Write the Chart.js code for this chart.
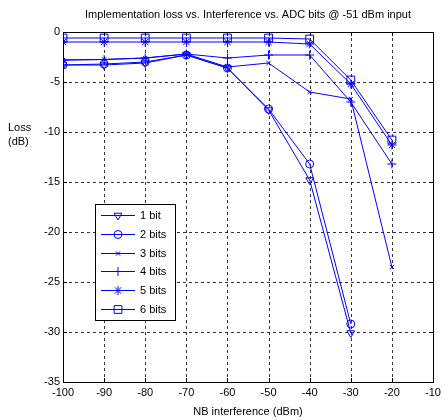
<!DOCTYPE html>
<html>
<head>
<meta charset="utf-8">
<script src="https://cdn.jsdelivr.net/npm/chart.js@4/dist/chart.umd.min.js"></script>
<style>
  html, body { margin: 0; padding: 0; background: #fff; }
  #c { display: block; }
</style>
</head>
<body>
<canvas id="c" width="446" height="420" style="width:446px;height:420px"></canvas>
<script>
// valores
var interferencia = [-100, -90, -80, -70, -60, -50, -40, -30, -20];
var bits1 = [-3.3, -3.3, -3.1, -2.3, -3.6, -7.8, -14.8, -30.1, null];
var bits2 = [-3.3, -3.2, -3.0, -2.3, -3.6, -7.7, -13.2, -29.2, null];
var bits3 = [-2.8, -2.75, -2.6, -2.2, -3.5, -3.1, -6.0, -6.7, -23.5];
var bits4 = [-2.8, -2.75, -2.6, -2.2, -2.6, -2.3, -2.3, -7.0, -13.2];
var bits5 = [-1.0, -1.0, -1.0, -1.0, -1.0, -1.0, -1.2, -5.2, -11.3];
var bits6 = [-0.6, -0.6, -0.6, -0.6, -0.6, -0.6, -0.7, -4.8, -10.8];
var nomes = ['1 bit', '2 bits', '3 bits', '4 bits', '5 bits', '6 bits'];
var xTicks = [-100, -90, -80, -70, -60, -50, -40, -30, -20, -10];
var yTicks = [0, -5, -10, -15, -20, -25, -30, -35];

var fonte = "'Liberation Sans', Arial, sans-serif";
var azul = '#0000ff';

function pontos(serie) {
    var lista = [];
    serie.forEach(function (v, i) {
        if (v !== null) lista.push({ x: interferencia[i], y: v });
    });
    return lista;
}

var estilos = [
    { s: 'triangle', r: 4.5, rot: 180 },
    { s: 'circle', r: 4, rot: 0 },
    { s: 'crossRot', r: 3, rot: 0 },
    { s: 'cross', r: 4.5, rot: 0 },
    { s: 'star', r: 4.5, rot: 0 },
    { s: 'rect', r: 5.5, rot: 0 }
];

var series = [bits1, bits2, bits3, bits4, bits5, bits6];
var datasets = series.map(function (serie, i) {
    return {
        label: nomes[i],
        data: pontos(serie),
        borderColor: azul,
        borderWidth: 1,
        backgroundColor: 'rgba(0,0,0,0)',
        pointStyle: estilos[i].s,
        pointRadius: estilos[i].r,
        pointRotation: estilos[i].rot,
        pointBorderColor: azul,
        pointBackgroundColor: 'rgba(0,0,0,0)',
        pointBorderWidth: 1,
        tension: 0
    };
});

// grade tracejada, desenhada antes das séries
var grade = {
    id: 'grade',
    beforeDatasetsDraw: function (chart) {
        var ctx = chart.ctx;
        var a = chart.chartArea;
        var sx = chart.scales.x, sy = chart.scales.y;
        ctx.save();
        ctx.strokeStyle = 'rgba(0,0,0,0.8)';
        ctx.lineWidth = 1;
        ctx.setLineDash([3, 3]);
        ctx.beginPath();
        xTicks.forEach(function (t) {
            var px = Math.round(sx.getPixelForValue(t)) + 0.5;
            ctx.moveTo(px, a.top); ctx.lineTo(px, a.bottom);
        });
        yTicks.forEach(function (t) {
            var py = Math.round(sy.getPixelForValue(t)) + 0.5;
            ctx.moveTo(a.left, py); ctx.lineTo(a.right, py);
        });
        ctx.stroke();
        ctx.restore();
    }
};

// moldura, marcas, título, rótulo do eixo y e legenda
var extras = {
    id: 'extras',
    afterDraw: function (chart) {
        var ctx = chart.ctx;
        var a = chart.chartArea;
        var sx = chart.scales.x, sy = chart.scales.y;
        ctx.save();
        ctx.strokeStyle = '#000';
        ctx.lineWidth = 1;
        ctx.beginPath();
        xTicks.forEach(function (t) {
            var px = Math.round(sx.getPixelForValue(t)) + 0.5;
            ctx.moveTo(px, a.bottom); ctx.lineTo(px, a.bottom - 4);
            ctx.moveTo(px, a.top); ctx.lineTo(px, a.top + 4);
        });
        yTicks.forEach(function (t) {
            var py = Math.round(sy.getPixelForValue(t)) + 0.5;
            ctx.moveTo(a.left, py); ctx.lineTo(a.left + 4, py);
            ctx.moveTo(a.right, py); ctx.lineTo(a.right - 4, py);
        });
        ctx.stroke();
        ctx.strokeRect(Math.round(a.left) + 0.5, Math.round(a.top) + 0.5,
            Math.round(a.right - a.left), Math.round(a.bottom - a.top));

        ctx.fillStyle = '#000';
        ctx.font = '11px ' + fonte;
        ctx.textAlign = 'center';
        ctx.textBaseline = 'middle';
        ctx.fillText('Implementation loss vs. Interference vs. ADC bits @ -51 dBm input', (a.left + a.right) / 2, 15);
        ctx.textAlign = 'left';
        ctx.fillText('Loss', 8, 128);
        ctx.fillText('(dB)', 8, 142);

        // legenda
        var lx = 95.5, ly = 204.5, lw = 80, lh = 116;
        ctx.fillStyle = '#fff';
        ctx.fillRect(lx, ly, lw, lh);
        ctx.strokeStyle = '#000';
        ctx.strokeRect(lx, ly, lw, lh);
        datasets.forEach(function (ds, i) {
            var y = Math.round(215 + i * 18.8) + 0.5;
            ctx.strokeStyle = azul;
            ctx.lineWidth = 1;
            ctx.beginPath();
            ctx.moveTo(101, y); ctx.lineTo(135, y);
            ctx.stroke();
            ctx.fillStyle = 'rgba(0,0,0,0)';
            if (Chart.helpers && Chart.helpers.drawPoint) {
                Chart.helpers.drawPoint(ctx, {
                    pointStyle: ds.pointStyle,
                    rotation: ds.pointRotation,
                    radius: ds.pointRadius,
                    borderWidth: 1
                }, 118, y);
            }
            ctx.fillStyle = '#000';
            ctx.font = '11px ' + fonte;
            ctx.textAlign = 'left';
            ctx.textBaseline = 'middle';
            ctx.fillText(ds.label, 140, y);
        });
        ctx.restore();
    }
};

var ctx = document.getElementById('c').getContext('2d');
var grafico = new Chart(ctx, {
    type: 'line',
    data: { datasets: datasets },
    options: {
        responsive: false,
        animation: false,
        layout: { padding: { top: 32, right: 13, left: 0, bottom: 0 } },
        plugins: {
            legend: { display: false },
            title: { display: false },
            tooltip: { enabled: false }
        },
        scales: {
            x: {
                type: 'linear',
                min: -100,
                max: -10,
                afterFit: function (s) { s.height = 38; },
                afterBuildTicks: function (s) {
                    s.ticks = xTicks.map(function (v) { return { value: v }; });
                },
                ticks: { color: '#000', font: { family: fonte, size: 11 }, padding: 4, maxRotation: 0, autoSkip: false },
                grid: { display: false, drawTicks: false },
                border: { display: false },
                title: { display: true, text: 'NB interference (dBm)', color: '#000', font: { family: fonte, size: 11 }, padding: { top: 0, bottom: 1 } }
            },
            y: {
                type: 'linear',
                min: -35,
                max: 0,
                afterFit: function (s) { s.width = 63; },
                afterBuildTicks: function (s) {
                    s.ticks = yTicks.map(function (v) { return { value: v }; });
                },
                ticks: { color: '#000', font: { family: fonte, size: 11 }, padding: 3, autoSkip: false },
                grid: { display: false, drawTicks: false },
                border: { display: false }
            }
        }
    },
    plugins: [grade, extras]
});
</script>
</body>
</html>
